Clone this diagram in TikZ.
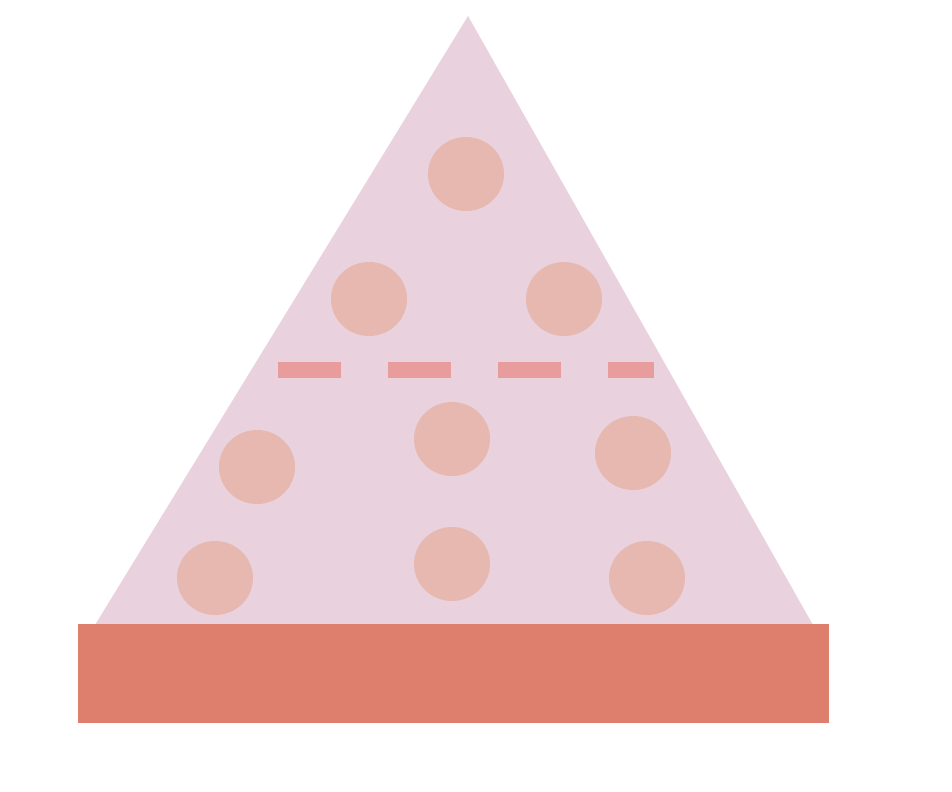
\documentclass[tikz,border=0pt]{standalone}
\definecolor{tentfill}{HTML}{E9D2DD}
\definecolor{spotfill}{HTML}{E6B8B0}
\definecolor{dashfill}{HTML}{E89C9C}
\definecolor{basefill}{HTML}{DE7E6C}

\begin{document}
\begin{tikzpicture}[x=0.01cm,y=-0.01cm,line join=round,
  spot/.style={fill=spotfill,draw=none},
  dashbar/.style={fill=dashfill,draw=none}]
  \useasboundingbox (0,0) rectangle (952,791);
  % pyramid body
  \fill[tentfill] (468,16) -- (813,625) -- (95,625) -- cycle;
  % spots
  \foreach \cx/\cy in {466/174,369/299,564/299,452/439,257/467,633/453,215/578,452/564,647/578}
    \fill[spot] (\cx,\cy) ellipse [x radius=38,y radius=37];
  % dashed band
  \foreach \xa/\xb in {278/341,388/451,498/561,608/654}
    \fill[dashbar] (\xa,362) rectangle (\xb,378);
  % base slab
  \fill[basefill] (78,624) rectangle (829,723);
\end{tikzpicture}
\end{document}
